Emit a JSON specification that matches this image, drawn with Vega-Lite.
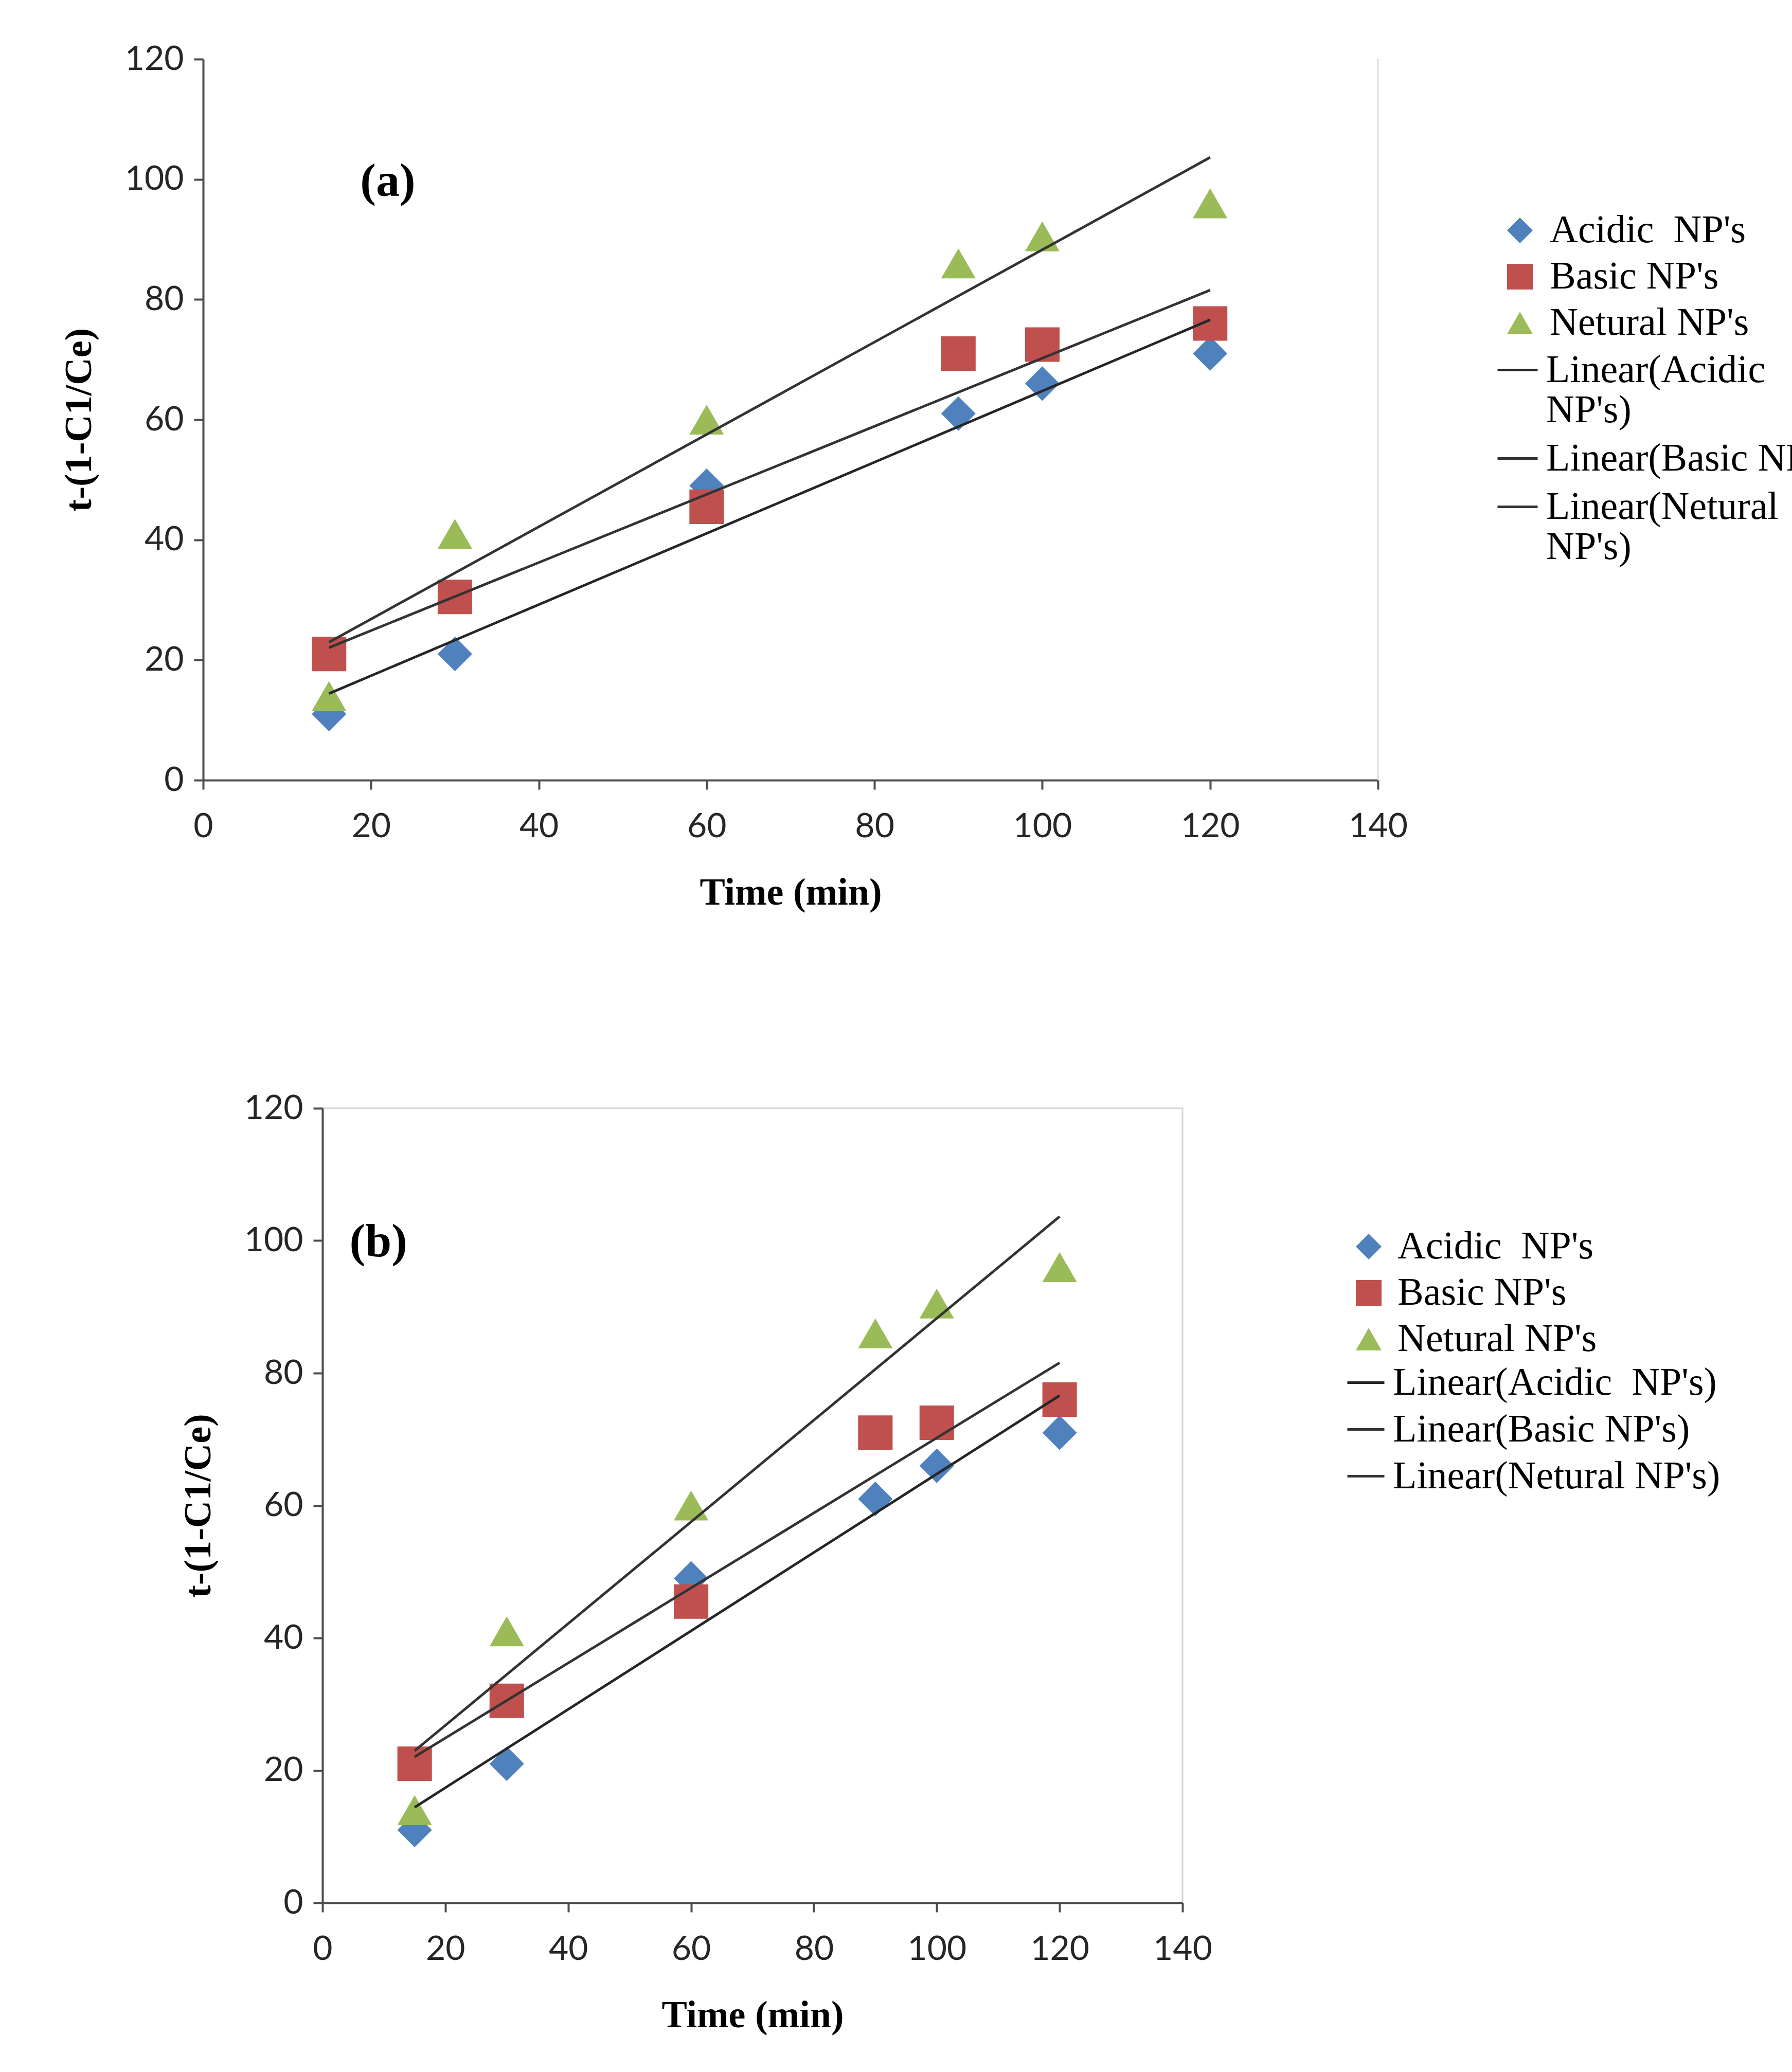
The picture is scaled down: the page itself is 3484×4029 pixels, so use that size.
{
  "$schema": "https://vega.github.io/schema/vega-lite/v6.json",
  "autosize": {"type": "none"},
  "padding": {"left": 395, "top": 115, "right": 3089, "bottom": 3914},
  "bounds": "flush",
  "spacing": 638,
  "datasets": {
    "kinetics": [
      {"time": 15, "value": 11, "series": "Acidic\u00a0 NP's", "fit": "Linear(Acidic\u00a0 NP's)"},
      {"time": 30, "value": 21, "series": "Acidic\u00a0 NP's", "fit": "Linear(Acidic\u00a0 NP's)"},
      {"time": 60, "value": 49, "series": "Acidic\u00a0 NP's", "fit": "Linear(Acidic\u00a0 NP's)"},
      {"time": 90, "value": 61, "series": "Acidic\u00a0 NP's", "fit": "Linear(Acidic\u00a0 NP's)"},
      {"time": 100, "value": 66, "series": "Acidic\u00a0 NP's", "fit": "Linear(Acidic\u00a0 NP's)"},
      {"time": 120, "value": 71, "series": "Acidic\u00a0 NP's", "fit": "Linear(Acidic\u00a0 NP's)"},
      {"time": 15, "value": 21, "series": "Basic NP's", "fit": "Linear(Basic NP's)"},
      {"time": 30, "value": 30.5, "series": "Basic NP's", "fit": "Linear(Basic NP's)"},
      {"time": 60, "value": 45.5, "series": "Basic NP's", "fit": "Linear(Basic NP's)"},
      {"time": 90, "value": 71, "series": "Basic NP's", "fit": "Linear(Basic NP's)"},
      {"time": 100, "value": 72.5, "series": "Basic NP's", "fit": "Linear(Basic NP's)"},
      {"time": 120, "value": 76, "series": "Basic NP's", "fit": "Linear(Basic NP's)"},
      {"time": 15, "value": 14, "series": "Netural NP's", "fit": "Linear(Netural NP's)"},
      {"time": 30, "value": 41, "series": "Netural NP's", "fit": "Linear(Netural NP's)"},
      {"time": 60, "value": 60, "series": "Netural NP's", "fit": "Linear(Netural NP's)"},
      {"time": 90, "value": 86, "series": "Netural NP's", "fit": "Linear(Netural NP's)"},
      {"time": 100, "value": 90.5, "series": "Netural NP's", "fit": "Linear(Netural NP's)"},
      {"time": 120, "value": 96, "series": "Netural NP's", "fit": "Linear(Netural NP's)"}
    ]
  },
  "vconcat": [
    {
      "width": 2284,
      "height": 1402,
      "layer": [
        {
          "data": {"values": [{}]},
          "mark": {"type": "rule", "color": "#dcdcdc", "strokeWidth": 3},
          "encoding": {
            "x": {"datum": 140, "type": "quantitative", "scale": {"domain": [0, 140], "nice": false}}
          }
        },
        {
          "data": {"name": "kinetics"},
          "mark": {"type": "point", "filled": true, "opacity": 1, "size": 4500},
          "encoding": {
            "x": {"field": "time", "type": "quantitative", "scale": {"domain": [0, 140], "nice": false},
                  "axis": {"title": "Time (min)", "values": [0, 20, 40, 60, 80, 100, 120, 140]}},
            "y": {"field": "value", "type": "quantitative", "scale": {"domain": [0, 120], "nice": false},
                  "axis": {"title": "t-(1-C1/Ce)", "values": [0, 20, 40, 60, 80, 100, 120]}},
            "color": {"field": "series", "type": "nominal",
                      "scale": {"domain": ["Acidic\u00a0 NP's", "Basic NP's", "Netural NP's"], "range": ["#4F81BD", "#C0504D", "#9BBB59"]},
                      "legend": {"title": null, "orient": "none", "legendX": 2522, "legendY": 295, "labelOffset": 20, "symbolSize": 2500}},
            "shape": {"field": "series", "type": "nominal",
                      "scale": {"domain": ["Acidic\u00a0 NP's", "Basic NP's", "Netural NP's"], "range": ["diamond", "square", "triangle-up"]},
                      "legend": {"title": null, "orient": "none", "legendX": 2522, "legendY": 295, "labelOffset": 20, "symbolSize": 2500}}
          }
        },
        {
          "data": {"name": "kinetics"},
          "transform": [{"regression": "value", "on": "time", "groupby": ["fit"]}],
          "mark": {"type": "line", "strokeWidth": 5},
          "encoding": {
            "x": {"field": "time", "type": "quantitative"},
            "y": {"field": "value", "type": "quantitative"},
            "stroke": {"field": "fit", "type": "nominal",
                       "scale": {"domain": ["Linear(Acidic\u00a0 NP's)", "Linear(Basic NP's)", "Linear(Netural NP's)"], "range": ["#262626", "#333333", "#333333"]},
                       "legend": {"title": null, "orient": "none", "legendX": 2514, "legendY": 563, "labelOffset": 14,
                                  "symbolType": "stroke", "symbolSize": 6084, "symbolStrokeWidth": 5,
                                  "labelExpr": "indexof(datum.label, 'Basic') >= 0 ? datum.label : indexof(datum.label, 'Acidic') >= 0 ? ['Linear(Acidic', \"NP's)\"] : ['Linear(Netural', \"NP's)\"]"}}
          }
        },
        {
          "data": {"values": [{}]},
          "mark": {"type": "text", "text": "(a)", "font": "Liberation Serif", "fontWeight": "bold", "fontSize": 92, "baseline": "middle"},
          "encoding": {
            "x": {"datum": 22.0, "type": "quantitative"},
            "y": {"datum": 99.6, "type": "quantitative"}
          }
        }
      ]
    },
    {
      "bounds": "flush",
      "spacing": 0,
      "hconcat": [
        {
          "width": 232,
          "height": 10,
          "data": {"values": []},
          "mark": "point",
          "encoding": {}
        },
        {
          "width": 1672,
          "height": 1545,
          "view": {"stroke": "#d4d4d4", "strokeWidth": 3},
          "layer": [
            {
              "data": {"name": "kinetics"},
              "mark": {"type": "point", "filled": true, "opacity": 1, "size": 4500},
              "encoding": {
                "x": {"field": "time", "type": "quantitative", "scale": {"domain": [0, 140], "nice": false},
                      "axis": {"title": "Time (min)", "values": [0, 20, 40, 60, 80, 100, 120, 140]}},
                "y": {"field": "value", "type": "quantitative", "scale": {"domain": [0, 120], "nice": false},
                      "axis": {"title": "t-(1-C1/Ce)", "values": [0, 20, 40, 60, 80, 100, 120]}},
                "color": {"field": "series", "type": "nominal",
                          "scale": {"domain": ["Acidic\u00a0 NP's", "Basic NP's", "Netural NP's"], "range": ["#4F81BD", "#C0504D", "#9BBB59"]},
                          "legend": {"title": null, "orient": "none", "legendX": 2228, "legendY": 231, "labelOffset": 18, "symbolSize": 2500}},
                "shape": {"field": "series", "type": "nominal",
                          "scale": {"domain": ["Acidic\u00a0 NP's", "Basic NP's", "Netural NP's"], "range": ["diamond", "square", "triangle-up"]},
                          "legend": {"title": null, "orient": "none", "legendX": 2228, "legendY": 231, "labelOffset": 18, "symbolSize": 2500}}
              }
            },
            {
              "data": {"name": "kinetics"},
              "transform": [{"regression": "value", "on": "time", "groupby": ["fit"]}],
              "mark": {"type": "line", "strokeWidth": 5},
              "encoding": {
                "x": {"field": "time", "type": "quantitative"},
                "y": {"field": "value", "type": "quantitative"},
                "stroke": {"field": "fit", "type": "nominal",
                           "scale": {"domain": ["Linear(Acidic\u00a0 NP's)", "Linear(Basic NP's)", "Linear(Netural NP's)"], "range": ["#262626", "#333333", "#333333"]},
                           "legend": {"title": null, "orient": "none", "legendX": 2222, "legendY": 495, "labelOffset": 14,
                                      "symbolType": "stroke", "symbolSize": 5184, "symbolStrokeWidth": 5}}
              }
            },
            {
              "data": {"values": [{}]},
              "mark": {"type": "text", "text": "(b)", "font": "Liberation Serif", "fontWeight": "bold", "fontSize": 92, "baseline": "middle"},
              "encoding": {
                "x": {"datum": 9.1, "type": "quantitative"},
                "y": {"datum": 99.8, "type": "quantitative"}
              }
            }
          ]
        }
      ]
    }
  ],
  "resolve": {
    "scale": {"color": "independent", "shape": "independent", "stroke": "independent"},
    "legend": {"color": "independent", "shape": "independent", "stroke": "independent"}
  },
  "config": {
    "view": {"stroke": null},
    "font": "Liberation Serif",
    "axis": {
      "grid": false,
      "domainColor": "#4d4d4d",
      "domainWidth": 4,
      "tickColor": "#4d4d4d",
      "tickWidth": 4,
      "tickSize": 18,
      "labelFont": "Lato",
      "labelFontSize": 66,
      "labelColor": "#262626",
      "labelFlush": false,
      "labelOverlap": false,
      "titleFont": "Liberation Serif",
      "titleFontWeight": "bold",
      "titleFontSize": 74,
      "titleColor": "#000000"
    },
    "axisX": {"labelPadding": 40, "titlePadding": 60},
    "axisY": {"labelPadding": 20, "titlePadding": 50},
    "legend": {
      "padding": 0,
      "labelFont": "Liberation Serif",
      "labelFontSize": 76,
      "labelColor": "#000000",
      "labelLimit": 2000,
      "rowPadding": 14,
      "symbolOpacity": 1,
      "symbolStrokeWidth": 0
    }
  }
}
